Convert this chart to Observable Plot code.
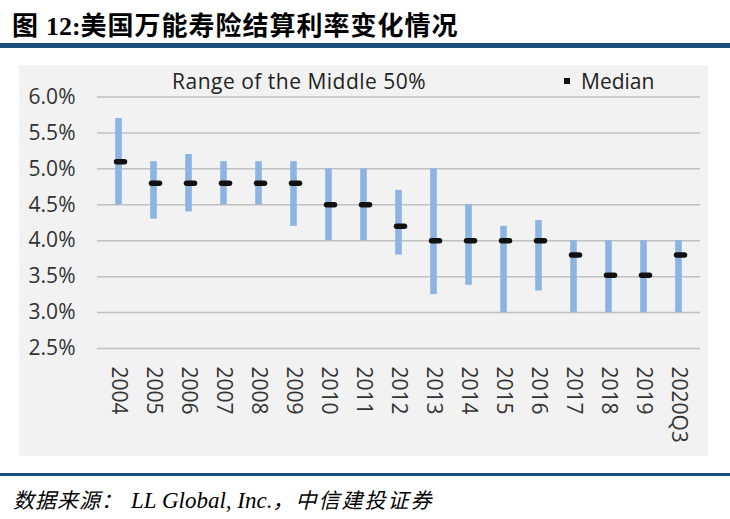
<!DOCTYPE html>
<html>
<head>
<meta charset="utf-8">
<script src="https://cdn.jsdelivr.net/npm/d3@7"></script>
<script src="https://cdn.jsdelivr.net/npm/@observablehq/plot@0.6"></script>
<style>
  html, body { margin: 0; padding: 0; background: #fff; }
  #page { position: relative; width: 730px; height: 519px; overflow: hidden; }
  #title { position: absolute; left: 12px; top: 10px; font-family: "Noto Sans CJK SC", sans-serif; font-weight: 700; font-size: 26px; line-height: 28px; letter-spacing: 1px; color: #000; white-space: nowrap; }
  #title .num { font-family: "Liberation Serif", serif; font-weight: 700; letter-spacing: 0; }
  #rule1 { position: absolute; left: 0; top: 43px; width: 730px; height: 4.5px; background: #1c4f7e; }
  #panel { position: absolute; left: 19px; top: 65px; width: 689px; height: 391px; background: #f2f2f2; }
  #legend { position: absolute; left: 0; top: 0; width: 689px; height: 32px; font-family: "Open Sans", sans-serif; font-size: 21px; color: #222; }
  #legend .t1 { position: absolute; left: 153px; top: 3px; line-height: 26px; white-space: nowrap; letter-spacing: 0.5px; }
  #legend .sq { position: absolute; left: 545px; top: 13px; width: 6px; height: 6px; background: #111; }
  #legend .t2 { position: absolute; left: 562px; top: 3px; line-height: 26px; white-space: nowrap; }
  #chart { position: absolute; left: 0; top: 0; }
  #rule2 { position: absolute; left: 0; top: 473px; width: 730px; height: 3px; background: #1c4f7e; }
  #source { position: absolute; left: 13px; top: 486px; font-family: "Liberation Serif", "Noto Sans CJK SC", serif; font-style: italic; line-height: 26px; color: #000; white-space: nowrap; }
  #source .cjk { font-family: "Noto Sans CJK SC", sans-serif; font-size: 21px; letter-spacing: 1px; }
  #source .cjk2 { font-family: "Noto Sans CJK SC", sans-serif; font-size: 21px; letter-spacing: 2px; }
  #source .lat { font-family: "Liberation Serif", serif; font-size: 23px; margin-left: 8px; }
</style>
</head>
<body>
<div id="page">
  <div id="title">图 <span class="num">12:</span>美国万能寿险结算利率变化情况</div>
  <div id="rule1"></div>
  <div id="panel">
    <div id="chart"></div>
    <div id="legend">
      <span class="t1">Range of the Middle 50%</span>
      <span class="sq"></span>
      <span class="t2">Median</span>
    </div>
  </div>
  <div id="rule2"></div>
  <div id="source"><span class="cjk">数据来源：</span><span class="lat">LL Global, Inc.</span><span class="cjk2">，中信建投证券</span></div>
</div>
<script>
const years = ["2004","2005","2006","2007","2008","2009","2010","2011","2012","2013","2014","2015","2016","2017","2018","2019","2020Q3"];
const low    = [4.5, 4.3, 4.4, 4.5, 4.5, 4.2, 4.0, 4.0, 3.8, 3.25, 3.38, 3.0, 3.3, 3.0, 3.0, 3.0, 3.0];
const high   = [5.7, 5.1, 5.2, 5.1, 5.1, 5.1, 5.0, 5.0, 4.7, 5.0, 4.5, 4.2, 4.28, 4.0, 4.0, 4.0, 4.0];
const median = [5.1, 4.8, 4.8, 4.8, 4.8, 4.8, 4.5, 4.5, 4.2, 4.0, 4.0, 4.0, 4.0, 3.8, 3.52, 3.52, 3.8];
const yTicks = [2.5, 3.0, 3.5, 4.0, 4.5, 5.0, 5.5, 6.0];

const data = years.map((year, i) => ({year, low: low[i], high: high[i], median: median[i]}));

const chart = Plot.plot({
  width: 689,
  height: 391,
  marginLeft: 78,
  marginRight: 8,
  marginTop: 31.5,
  marginBottom: 108,
  style: {background: "transparent", fontFamily: "'Open Sans', sans-serif", fontSize: "21px", color: "#333", overflow: "visible"},
  x: {type: "band", domain: years, padding: 0, label: null},
  y: {domain: [2.5, 6.0], label: null},
  marks: [
    Plot.gridY(yTicks, {stroke: "#c0c0c0", strokeOpacity: 1, strokeWidth: 1.5}),
    Plot.axisY(yTicks, {tickSize: 0, tickPadding: 22, tickFormat: d => d.toFixed(1) + "%", fill: "#333", fontSize: 21, label: null}),
    Plot.axisX({tickSize: 0, tickPadding: 18, tickRotate: 90, fill: "#333", fontSize: 21, label: null}),
    Plot.barY(data, {x: "year", y1: "low", y2: "high", fill: "#8db3e2", insetLeft: 14.2, insetRight: 14.2}),
    Plot.tickY(data, {x: "year", y: "median", stroke: "#111", strokeWidth: 5.5, strokeLinecap: "round", insetLeft: 13.5, insetRight: 13.5, dx: 2})
  ]
});
document.getElementById("chart").appendChild(chart);
</script>
</body>
</html>
